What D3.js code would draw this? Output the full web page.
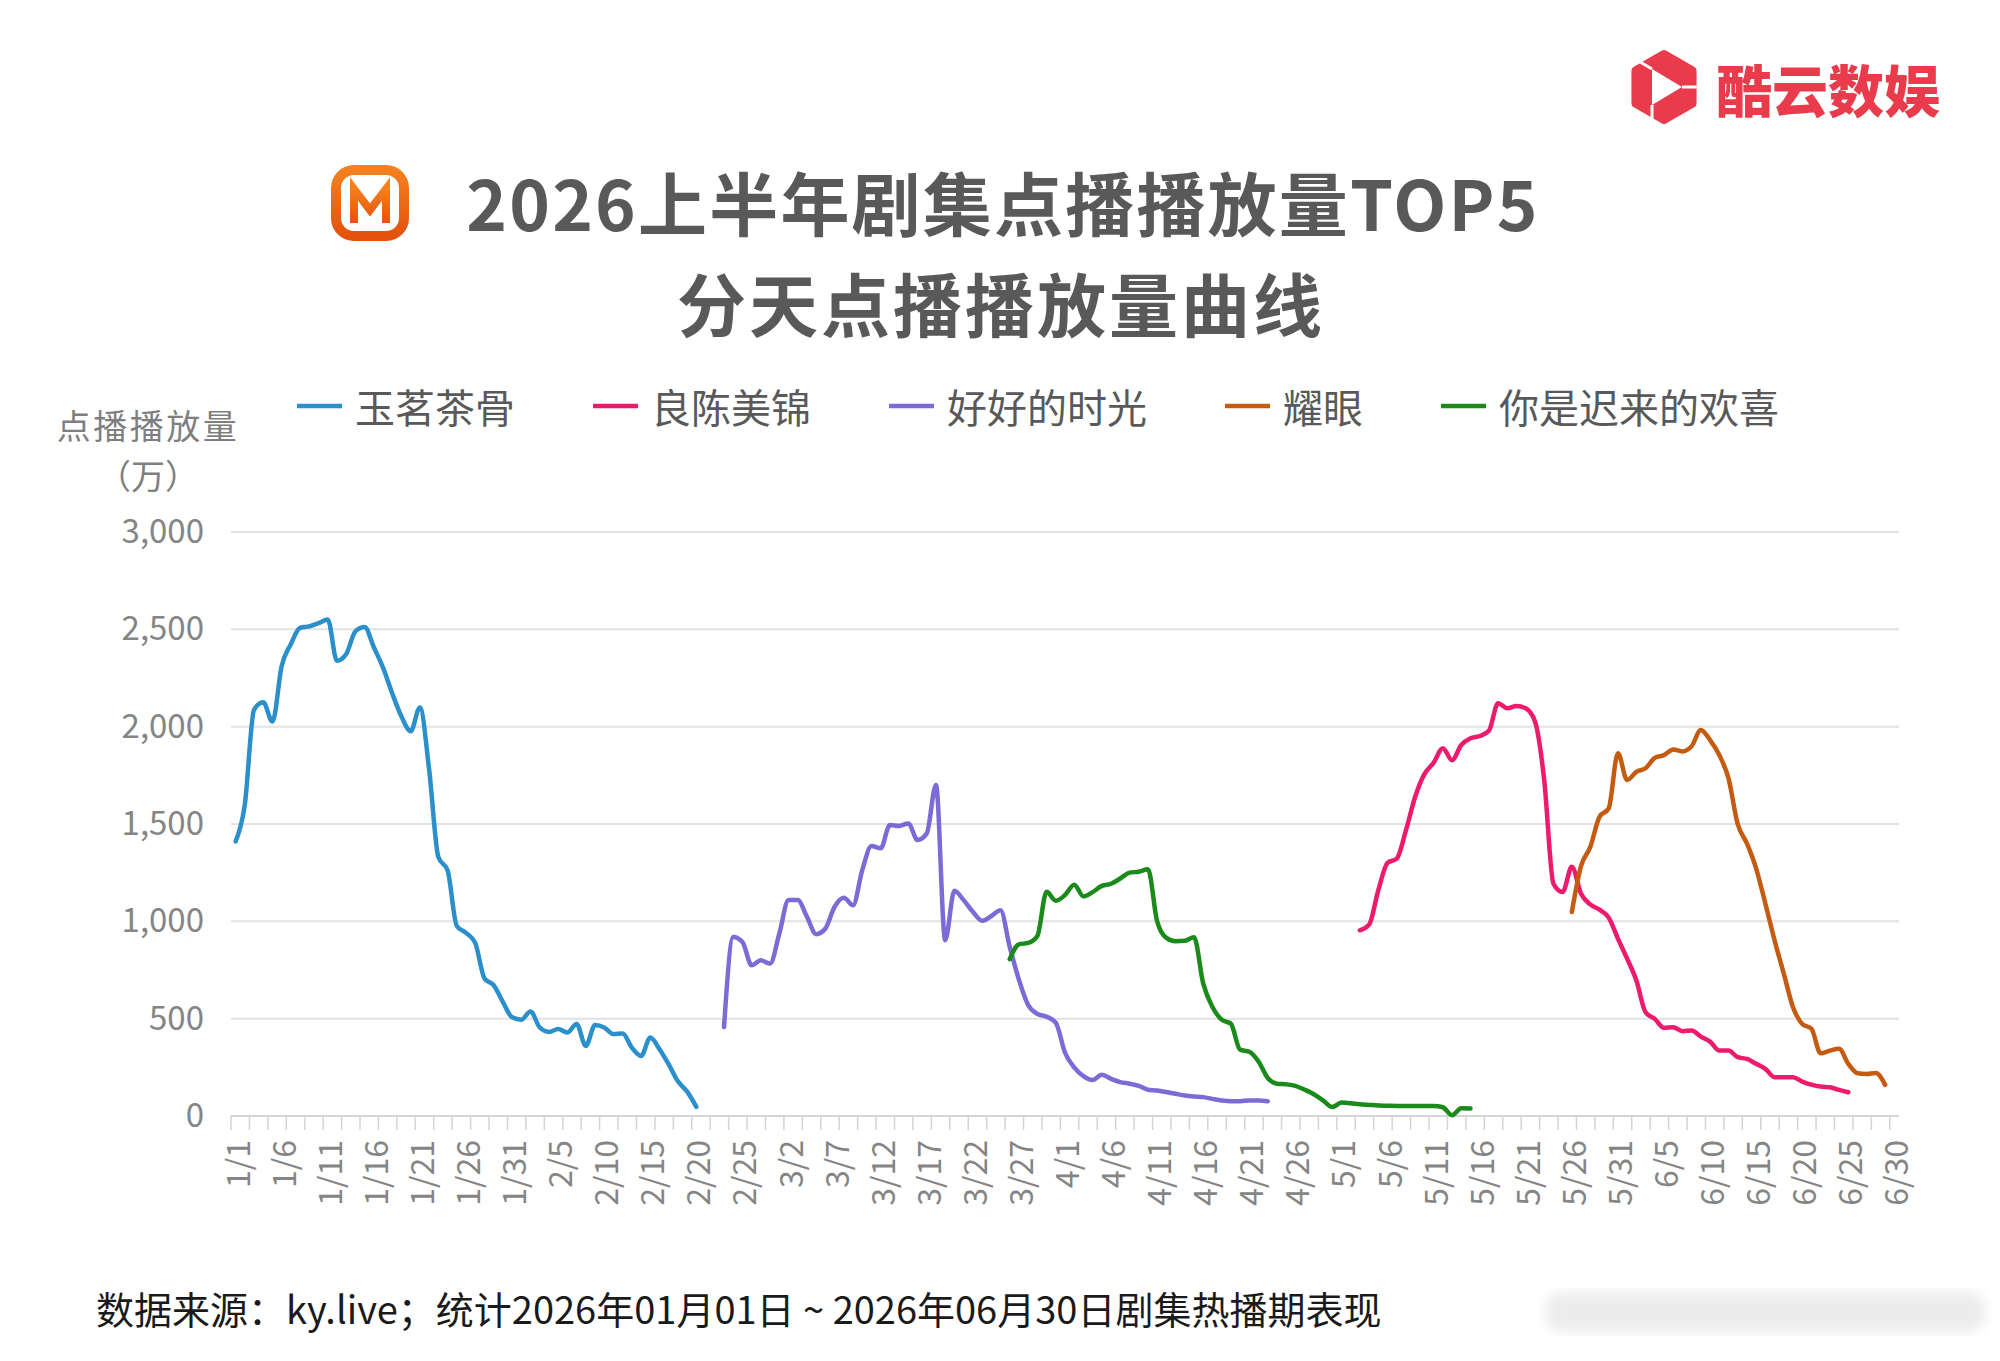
<!DOCTYPE html>
<html>
<head>
<meta charset="UTF-8">
<title>2026上半年剧集点播播放量TOP5</title>
<script src="https://d3js.org/d3.v7.min.js"></script>
<style>
  body { margin: 0; background: #fff; }
  svg text { font-family: "Noto Sans CJK SC", "Noto Sans", sans-serif; }
</style>
</head>
<body>
<div id="chart"></div>
<script>
// x categories shown on the axis (every 5th day)
const tickLabels = ["1/1","1/6","1/11","1/16","1/21","1/26","1/31","2/5","2/10","2/15","2/20","2/25",
  "3/2","3/7","3/12","3/17","3/22","3/27","4/1","4/6","4/11","4/16","4/21","4/26","5/1","5/6","5/11",
  "5/16","5/21","5/26","5/31","6/5","6/10","6/15","6/20","6/25","6/30"];
const yTicks = [0, 500, 1000, 1500, 2000, 2500, 3000];

const seriesNames = ["玉茗茶骨", "良陈美锦", "好好的时光", "耀眼", "你是迟来的欢喜"];
const seriesStart = ["1/1", "5/3", "2/23", "5/26", "3/26"];

// daily values (万), starting at seriesStart
const yumingchagu = [1410, 1600, 2087, 2125, 2026, 2312, 2425, 2508, 2515, 2532, 2550, 2338, 2373, 2490,
  2512, 2408, 2303, 2170, 2052, 1977, 2099, 1780, 1330, 1262, 976, 941, 889, 707, 672, 586, 507, 495,
  537, 455, 432, 447, 429, 473, 360, 467, 455, 421, 424, 351, 308, 403, 343, 265, 178, 125, 47];
const liangchenmeijin = [954, 983, 1160, 1300, 1322, 1468, 1640, 1756, 1815, 1889, 1828, 1906, 1940, 1952,
  1979, 2120, 2094, 2106, 2094, 2026, 1726, 1194, 1151, 1280, 1142, 1087, 1060, 1019, 911, 808, 696,
  533, 499, 453, 456, 436, 439, 408, 382, 336, 336, 302, 293, 268, 242, 199, 199, 199, 177, 161, 151,
  148, 134, 122];
const haohaodeshiguang = [457, 920, 894, 774, 800, 783, 937, 1109, 1109, 1023, 934, 963, 1075, 1121, 1083,
  1263, 1387, 1375, 1495, 1490, 1503, 1418, 1452, 1700, 903, 1157, 1109, 1049, 1003, 1027, 1057, 869,
  700, 570, 525, 510, 480, 325, 250, 205, 185, 212, 191, 174, 166, 155, 135, 131, 123, 114, 105, 100,
  97, 88, 80, 76, 76, 80, 80, 76];
const yaoyan = [1048, 1285, 1382, 1537, 1580, 1863, 1726, 1768, 1786, 1840, 1854, 1883, 1873, 1900, 1983,
  1931, 1854, 1734, 1499, 1400, 1271, 1091, 902, 731, 559, 473, 448, 322, 336, 345, 268, 220, 216, 221, 160];
const nishichilaidehuanxi = [806, 882, 889, 925, 1152, 1106, 1135, 1188, 1128, 1150, 1182, 1193, 1220, 1250,
  1255, 1267, 1000, 915, 898, 900, 918, 680, 560, 495, 474, 341, 330, 280, 195, 166, 163, 155, 135, 112,
  80, 46, 69, 65, 60, 57, 54, 53, 52, 52, 52, 52, 52, 45, 4, 40, 38];

const seriesValues = [yumingchagu, liangchenmeijin, haohaodeshiguang, yaoyan, nishichilaidehuanxi];
const seriesColors = ["#2A8FCB", "#EE1A6B", "#7C6BD6", "#C55A11", "#1A8A1A"];
const drawOrder = [0, 2, 4, 1, 3];

const width = 2000, height = 1361;
const plot = { left: 231, right: 1899, top: 532, bottom: 1116 };

const fmt = d => `${d.getMonth() + 1}/${d.getDate()}`;
const days = d3.timeDay.range(new Date(2026, 0, 1), new Date(2026, 6, 1)).map(fmt);

const svg = d3.select("#chart").append("svg")
  .attr("width", width).attr("height", height)
  .style("background", "#fff");

const x = d3.scaleBand().domain(days).range([plot.left, plot.right]);
const bw = x.bandwidth();
const y = d3.scaleLinear().domain([0, 3000]).range([plot.bottom, plot.top]);

// gridlines
svg.append("g").selectAll("line").data(yTicks.filter(d => d > 0)).join("line")
  .attr("x1", plot.left).attr("x2", plot.right)
  .attr("y1", d => y(d)).attr("y2", d => y(d))
  .attr("stroke", "#e2e2e2").attr("stroke-width", 2);

// y axis labels
const yAxis = svg.append("g")
  .attr("transform", `translate(${plot.left},0)`)
  .call(d3.axisLeft(y).tickValues(yTicks).tickSize(0).tickPadding(27).tickFormat(d3.format(",")));
yAxis.select(".domain").remove();
yAxis.selectAll("text").attr("font-size", 33).attr("fill", "#858585")
  .attr("font-family", "Roboto, sans-serif");

// x axis
const xAxis = svg.append("g")
  .attr("transform", `translate(0,${plot.bottom})`)
  .call(d3.axisBottom(x).tickValues(tickLabels).tickSize(0));
xAxis.select(".domain").remove();
xAxis.selectAll("text")
  .attr("y", 0).attr("dy", null).attr("x", -24)
  .attr("transform", "rotate(-90)")
  .attr("text-anchor", "end")
  .attr("dominant-baseline", "central")
  .attr("font-size", 32).attr("fill", "#858585")
  .attr("font-family", "Roboto, sans-serif");

svg.append("line")
  .attr("x1", plot.left).attr("x2", plot.right)
  .attr("y1", plot.bottom).attr("y2", plot.bottom)
  .attr("stroke", "#d4d4d4").attr("stroke-width", 2);
svg.append("g").selectAll("line").data(days.filter((d, i) => i % 2 === 0)).join("line")
  .attr("x1", d => x(d)).attr("x2", d => x(d))
  .attr("y1", plot.bottom).attr("y2", plot.bottom + 14)
  .attr("stroke", "#d4d4d4").attr("stroke-width", 1.5);

// series lines
const line = d3.line()
  .x(d => x(d.day) + bw / 2)
  .y(d => y(d.value))
  .curve(d3.curveMonotoneX);

drawOrder.forEach(i => {
  const s0 = days.indexOf(seriesStart[i]);
  const pts = seriesValues[i].map((v, k) => ({ day: days[s0 + k], value: v }));
  svg.append("path")
    .datum(pts)
    .attr("fill", "none")
    .attr("stroke", seriesColors[i])
    .attr("stroke-width", 4.5)
    .attr("stroke-linejoin", "round")
    .attr("stroke-linecap", "round")
    .attr("d", line);
});

// legend
const legend = svg.append("g").attr("transform", "translate(297,406)");
let lx = 0;
seriesNames.forEach((name, i) => {
  legend.append("line")
    .attr("x1", lx).attr("x2", lx + 45).attr("y1", 0).attr("y2", 0)
    .attr("stroke", seriesColors[i]).attr("stroke-width", 4.5);
  const t = legend.append("text")
    .attr("x", lx + 58).attr("y", 0)
    .attr("dominant-baseline", "central")
    .attr("font-size", 40).attr("fill", "#595959")
    .text(name);
  lx += 58 + t.node().getComputedTextLength() + 78;
});

// y axis title
svg.append("text").attr("x", 148).attr("y", 424)
  .attr("text-anchor", "middle").attr("dominant-baseline", "central")
  .attr("font-size", 34).attr("letter-spacing", 2.5).attr("fill", "#7f7f7f")
  .text("点播播放量");
svg.append("text").attr("x", 148).attr("y", 474)
  .attr("text-anchor", "middle").attr("dominant-baseline", "central")
  .attr("font-size", 34).attr("fill", "#7f7f7f")
  .text("（万）");

// title
svg.append("text").attr("x", 1003).attr("y", 201)
  .attr("text-anchor", "middle").attr("dominant-baseline", "central")
  .attr("font-size", 69).attr("letter-spacing", 2.2).attr("font-weight", 700).attr("fill", "#595959")
  .text("2026上半年剧集点播播放量TOP5");
svg.append("text").attr("x", 1001).attr("y", 302)
  .attr("text-anchor", "middle").attr("dominant-baseline", "central")
  .attr("font-size", 69).attr("letter-spacing", 3).attr("font-weight", 700).attr("fill", "#595959")
  .text("分天点播播放量曲线");

// mango logo
const defs = svg.append("defs");
const grad = defs.append("linearGradient").attr("id", "mango").attr("x1", 0).attr("y1", 0).attr("x2", 0).attr("y2", 1);
grad.append("stop").attr("offset", 0).attr("stop-color", "#F4801F");
grad.append("stop").attr("offset", 1).attr("stop-color", "#E4520C");
const mango = svg.append("g");
mango.append("rect").attr("x", 336).attr("y", 170).attr("width", 68).attr("height", 66).attr("rx", 18)
  .attr("fill", "none").attr("stroke", "url(#mango)").attr("stroke-width", 10);
mango.append("path").attr("d", "M354,223 L354,189 L370,210 L386,189 L386,223")
  .attr("fill", "none").attr("stroke", "url(#mango)").attr("stroke-width", 8).attr("stroke-linejoin", "miter");

// kuyun logo
const kuyun = svg.append("g").attr("transform", "translate(1664,87)");
const hex = d3.range(6).map(k => {
  const a = (k * 60 - 90) * Math.PI / 180;
  return [33 * Math.cos(a), 33 * Math.sin(a)];
});
kuyun.append("path").attr("d", "M" + hex.join("L") + "Z")
  .attr("fill", "#E93B4C").attr("stroke", "#E93B4C").attr("stroke-width", 8).attr("stroke-linejoin", "round");
kuyun.append("path").attr("d", "M-12,-18 L18,0 L-12,18 Z").attr("fill", "#fff");
kuyun.append("path").attr("d", "M-12,-18 L-34,-31 M18,0 L40,0 M-12,18 L-12,40")
  .attr("stroke", "#fff").attr("stroke-width", 3);
svg.append("text").attr("x", 1716).attr("y", 87)
  .attr("dominant-baseline", "central")
  .attr("font-size", 56).attr("font-weight", 900).attr("fill", "#E93B4C")
  .text("酷云数娱");

// footer
svg.append("text").attr("x", 96).attr("y", 1307)
  .attr("dominant-baseline", "central")
  .attr("font-size", 38).attr("fill", "#1a1a1a")
  .text("数据来源：ky.live；统计2026年01月01日 ~ 2026年06月30日剧集热播期表现");

// faint watermark
const blur = defs.append("filter").attr("id", "blur");
blur.append("feGaussianBlur").attr("stdDeviation", 6);
svg.append("rect").attr("x", 1545).attr("y", 1292).attr("width", 440).attr("height", 40).attr("rx", 16)
  .attr("fill", "#ececec").attr("filter", "url(#blur)");
</script>
</body>
</html>
